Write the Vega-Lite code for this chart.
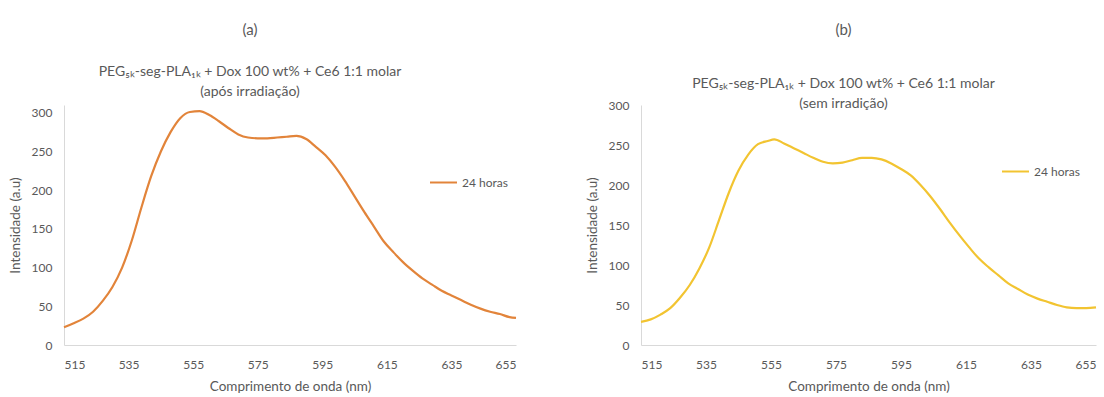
{
  "$schema": "https://vega.github.io/schema/vega-lite/v6.json",
  "background": "white",
  "padding": {"left": 8, "top": 23, "right": 5, "bottom": 0},
  "spacing": 64,
  "resolve": {"scale": {"color": "independent"}, "legend": {"color": "independent"}},
  "config": {
    "font": "Lato",
    "view": {"stroke": null},
    "axis": {
      "domainColor": "#d9d9d9",
      "ticks": false,
      "grid": false,
      "labelColor": "#595959",
      "labelFontSize": 12,
      "titleColor": "#595959",
      "titleFontSize": 13.5,
      "titleFontWeight": "normal"
    },
    "axisX": {"labelPadding": 14, "titlePadding": 9},
    "axisY": {"labelPadding": 12, "titlePadding": 9},
    "title": {"fontSize": 15, "fontWeight": "normal", "color": "#595959", "subtitleColor": "#595959", "subtitleFontSize": 14, "subtitleLineHeight": 20},
    "legend": {"labelColor": "#595959", "labelFontSize": 12, "labelOffset": 4, "symbolType": "stroke", "symbolSize": 729, "symbolStrokeWidth": 2, "title": null}
  },
  "hconcat": [
    {
      "width": 452,
      "height": 240,
      "title": {"text": "(a)", "subtitle": ["PEG₅ₖ-seg-PLA₁ₖ + Dox 100 wt% + Ce6 1:1 molar", "(após irradiação)"], "dx": -40, "offset": 6, "subtitlePadding": 27},
      "data": {"values": [
        {"wl": 515, "int": 23, "serie": "24 horas"},
        {"wl": 518, "int": 28, "serie": "24 horas"},
        {"wl": 521, "int": 34, "serie": "24 horas"},
        {"wl": 524, "int": 43, "serie": "24 horas"},
        {"wl": 527, "int": 57, "serie": "24 horas"},
        {"wl": 530, "int": 75, "serie": "24 horas"},
        {"wl": 533, "int": 100, "serie": "24 horas"},
        {"wl": 536, "int": 135, "serie": "24 horas"},
        {"wl": 539, "int": 178, "serie": "24 horas"},
        {"wl": 542, "int": 218, "serie": "24 horas"},
        {"wl": 545, "int": 250, "serie": "24 horas"},
        {"wl": 548, "int": 275, "serie": "24 horas"},
        {"wl": 551, "int": 293, "serie": "24 horas"},
        {"wl": 554, "int": 301, "serie": "24 horas"},
        {"wl": 557, "int": 302, "serie": "24 horas"},
        {"wl": 560, "int": 297, "serie": "24 horas"},
        {"wl": 563, "int": 289, "serie": "24 horas"},
        {"wl": 566, "int": 280, "serie": "24 horas"},
        {"wl": 569, "int": 272, "serie": "24 horas"},
        {"wl": 572, "int": 268, "serie": "24 horas"},
        {"wl": 575, "int": 267, "serie": "24 horas"},
        {"wl": 578, "int": 267, "serie": "24 horas"},
        {"wl": 581, "int": 268, "serie": "24 horas"},
        {"wl": 584, "int": 269, "serie": "24 horas"},
        {"wl": 587, "int": 270, "serie": "24 horas"},
        {"wl": 590, "int": 266, "serie": "24 horas"},
        {"wl": 593, "int": 256, "serie": "24 horas"},
        {"wl": 596, "int": 245, "serie": "24 horas"},
        {"wl": 599, "int": 230, "serie": "24 horas"},
        {"wl": 602, "int": 212, "serie": "24 horas"},
        {"wl": 605, "int": 192, "serie": "24 horas"},
        {"wl": 608, "int": 172, "serie": "24 horas"},
        {"wl": 611, "int": 153, "serie": "24 horas"},
        {"wl": 614, "int": 134, "serie": "24 horas"},
        {"wl": 617, "int": 120, "serie": "24 horas"},
        {"wl": 620, "int": 107, "serie": "24 horas"},
        {"wl": 623, "int": 96, "serie": "24 horas"},
        {"wl": 626, "int": 86, "serie": "24 horas"},
        {"wl": 629, "int": 78, "serie": "24 horas"},
        {"wl": 632, "int": 70, "serie": "24 horas"},
        {"wl": 635, "int": 64, "serie": "24 horas"},
        {"wl": 638, "int": 58, "serie": "24 horas"},
        {"wl": 641, "int": 52, "serie": "24 horas"},
        {"wl": 644, "int": 47, "serie": "24 horas"},
        {"wl": 647, "int": 43, "serie": "24 horas"},
        {"wl": 650, "int": 40, "serie": "24 horas"},
        {"wl": 653, "int": 36, "serie": "24 horas"},
        {"wl": 655, "int": 35, "serie": "24 horas"}
      ]},
      "mark": {"type": "line", "interpolate": "monotone", "strokeWidth": 2.2},
      "encoding": {
        "x": {"field": "wl", "type": "quantitative", "title": "Comprimento de onda (nm)", "scale": {"domain": [515, 655], "nice": false, "zero": false}, "axis": {"values": [515, 535, 555, 575, 595, 615, 635, 655]}},
        "y": {"field": "int", "type": "quantitative", "title": "Intensidade (a.u)", "scale": {"domain": [0, 310], "nice": false}, "axis": {"values": [0, 50, 100, 150, 200, 250, 300]}},
        "color": {"field": "serie", "type": "nominal", "scale": {"range": ["#E2843A"]}, "legend": {"orient": "none", "legendX": 365, "legendY": 63}}
      }
    },
    {
      "width": 455,
      "height": 240,
      "title": {"text": "(b)", "subtitle": ["PEG₅ₖ-seg-PLA₁ₖ + Dox 100 wt% + Ce6 1:1 molar", "(sem irradição)"], "dx": -25, "offset": -12, "subtitlePadding": 39},
      "data": {"values": [
        {"wl": 515, "int": 29, "serie": "24 horas"},
        {"wl": 518, "int": 32, "serie": "24 horas"},
        {"wl": 521, "int": 38, "serie": "24 horas"},
        {"wl": 524, "int": 46, "serie": "24 horas"},
        {"wl": 527, "int": 59, "serie": "24 horas"},
        {"wl": 530, "int": 75, "serie": "24 horas"},
        {"wl": 533, "int": 96, "serie": "24 horas"},
        {"wl": 536, "int": 122, "serie": "24 horas"},
        {"wl": 539, "int": 156, "serie": "24 horas"},
        {"wl": 542, "int": 190, "serie": "24 horas"},
        {"wl": 545, "int": 218, "serie": "24 horas"},
        {"wl": 548, "int": 238, "serie": "24 horas"},
        {"wl": 551, "int": 251, "serie": "24 horas"},
        {"wl": 554, "int": 255, "serie": "24 horas"},
        {"wl": 556, "int": 257, "serie": "24 horas"},
        {"wl": 559, "int": 252, "serie": "24 horas"},
        {"wl": 562, "int": 246, "serie": "24 horas"},
        {"wl": 565, "int": 240, "serie": "24 horas"},
        {"wl": 568, "int": 234, "serie": "24 horas"},
        {"wl": 571, "int": 229, "serie": "24 horas"},
        {"wl": 574, "int": 227, "serie": "24 horas"},
        {"wl": 577, "int": 228, "serie": "24 horas"},
        {"wl": 580, "int": 231, "serie": "24 horas"},
        {"wl": 583, "int": 234, "serie": "24 horas"},
        {"wl": 586, "int": 234, "serie": "24 horas"},
        {"wl": 589, "int": 232, "serie": "24 horas"},
        {"wl": 592, "int": 227, "serie": "24 horas"},
        {"wl": 595, "int": 220, "serie": "24 horas"},
        {"wl": 598, "int": 212, "serie": "24 horas"},
        {"wl": 601, "int": 200, "serie": "24 horas"},
        {"wl": 604, "int": 186, "serie": "24 horas"},
        {"wl": 607, "int": 170, "serie": "24 horas"},
        {"wl": 610, "int": 153, "serie": "24 horas"},
        {"wl": 613, "int": 137, "serie": "24 horas"},
        {"wl": 616, "int": 122, "serie": "24 horas"},
        {"wl": 619, "int": 108, "serie": "24 horas"},
        {"wl": 622, "int": 97, "serie": "24 horas"},
        {"wl": 625, "int": 87, "serie": "24 horas"},
        {"wl": 628, "int": 77, "serie": "24 horas"},
        {"wl": 631, "int": 70, "serie": "24 horas"},
        {"wl": 634, "int": 63, "serie": "24 horas"},
        {"wl": 637, "int": 58, "serie": "24 horas"},
        {"wl": 640, "int": 54, "serie": "24 horas"},
        {"wl": 643, "int": 50, "serie": "24 horas"},
        {"wl": 646, "int": 47, "serie": "24 horas"},
        {"wl": 649, "int": 46, "serie": "24 horas"},
        {"wl": 652, "int": 46, "serie": "24 horas"},
        {"wl": 655, "int": 47, "serie": "24 horas"}
      ]},
      "mark": {"type": "line", "interpolate": "monotone", "strokeWidth": 2.2},
      "encoding": {
        "x": {"field": "wl", "type": "quantitative", "title": "Comprimento de onda (nm)", "scale": {"domain": [515, 655], "nice": false, "zero": false}, "axis": {"values": [515, 535, 555, 575, 595, 615, 635, 655]}},
        "y": {"field": "int", "type": "quantitative", "title": "Intensidade (a.u)", "scale": {"domain": [0, 300], "nice": false}, "axis": {"values": [0, 50, 100, 150, 200, 250, 300]}},
        "color": {"field": "serie", "type": "nominal", "scale": {"range": ["#F2C431"]}, "legend": {"orient": "none", "legendX": 360, "legendY": 52}}
      }
    }
  ]
}
